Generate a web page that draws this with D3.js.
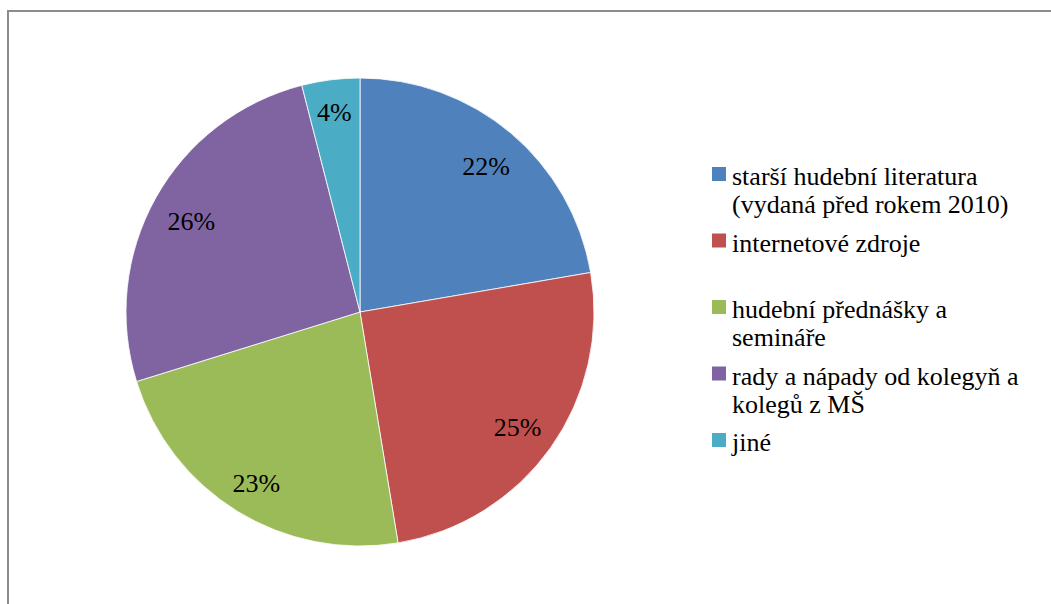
<!DOCTYPE html>
<html>
<head>
<meta charset="utf-8">
<script src="https://cdn.jsdelivr.net/npm/d3@7"></script>
</head>
<body style="margin:0">
<svg id="s" width="1051" height="604" font-family="Liberation Serif"></svg>
<script>
// ---- data ----
const categories = [
  "starší hudební literatura (vydaná před rokem 2010)",
  "internetové zdroje",
  "hudební přednášky a semináře",
  "rady a nápady od kolegyň a kolegů z MŠ",
  "jiné"
];
const legendLines = [
  ["starší hudební literatura", "(vydaná před rokem 2010)"],
  ["internetové zdroje"],
  ["hudební přednášky a", "semináře"],
  ["rady a nápady od kolegyň a", "kolegů z MŠ"],
  ["jiné"]
];
const values = [22.3, 25.1, 22.8, 25.8, 4.0];
const colors = ["#4F81BD", "#C0504D", "#9BBB59", "#8064A2", "#4BACC6"];

// ---- drawing ----
const svg = d3.select("#s");
const W = 1051, H = 604;

// frame
svg.append("rect")
  .attr("x", 8).attr("y", 11)
  .attr("width", W + 20).attr("height", H + 20)
  .attr("fill", "#fff")
  .attr("stroke", "#8c8c8c")
  .attr("stroke-width", 2);

const cx = 360, cy = 312, R = 234;
const total = d3.sum(values);
const pie = d3.pie().sort(null).value(d => d)(values);
const arc = d3.arc().innerRadius(0).outerRadius(R);
const color = d3.scaleOrdinal().domain(categories).range(colors);
const fmt = d3.format(".0%");

const g = svg.append("g").attr("transform", `translate(${cx},${cy})`);
g.selectAll("path")
  .data(pie)
  .join("path")
  .attr("d", arc)
  .attr("fill", (d, i) => color(categories[i]))
  .attr("stroke", "#fff")
  .attr("stroke-width", 0.8);

// labels: placed inside, outer corner of the label box at R0
const R0 = R * 0.93;
const labels = g.selectAll("text")
  .data(pie)
  .join("text")
  .attr("font-size", 26)
  .style("font-family", d => `"Liberation Serif", serif`)
  .attr("text-anchor", "middle")
  .attr("dy", "0.35em")
  .text(d => fmt(d.value / total));

labels.each(function(d) {
  const hw = 23, hh = 9;
  const mid = (d.startAngle + d.endAngle) / 2;
  const ux = Math.sin(mid), uy = -Math.cos(mid);
  const a = Math.sign(ux) * hw, b = Math.sign(uy) * hh;
  const p = ux * a + uy * b;
  const dd = -p + Math.sqrt(p * p - (a * a + b * b - R0 * R0));
  d3.select(this).attr("x", dd * ux).attr("y", dd * uy + 3);
});

// legend
const ly = d3.scalePoint().domain(categories).range([167, 433]);
const items = svg.selectAll("g.item")
  .data(categories)
  .join("g")
  .attr("class", "item")
  .attr("transform", d => `translate(712,${ly(d)})`);
items.append("rect")
  .attr("width", 14).attr("height", 14)
  .attr("fill", d => color(d));
items.each(function(d, i) {
  const gi = d3.select(this);
  legendLines[i].forEach((line, j) => {
    gi.append("text")
      .attr("x", 20)
      .attr("y", 18 + j * 28)
      .attr("font-size", 26)
      .style("font-family", () => `"Liberation Serif", serif`)
      .text(line);
  });
});
</script>
</body>
</html>
